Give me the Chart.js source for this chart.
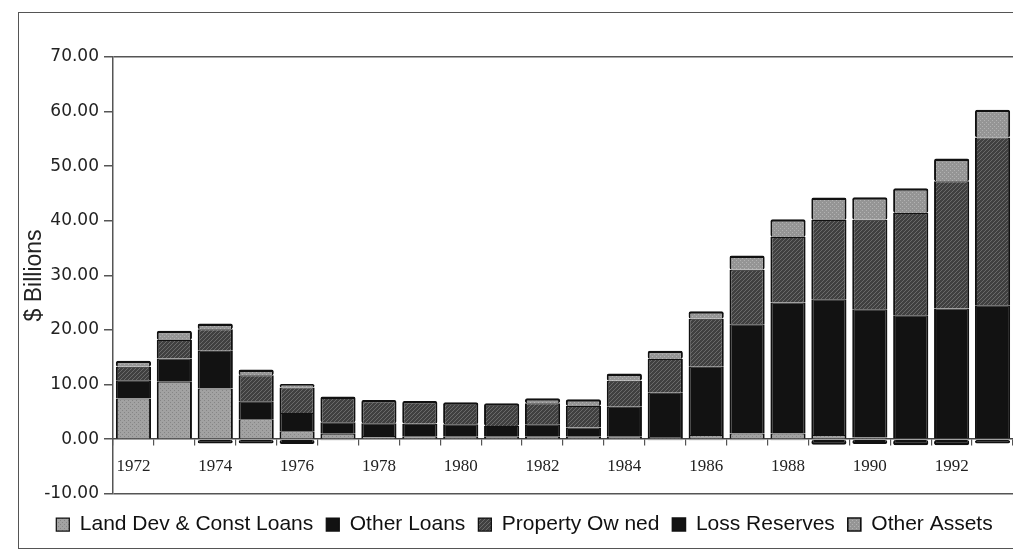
<!DOCTYPE html>
<html>
<head>
<meta charset="utf-8">
<script src="https://cdn.jsdelivr.net/npm/chart.js@4/dist/chart.umd.min.js"></script>
<style>
  html, body { margin: 0; padding: 0; background: #fff; overflow: hidden; }
  #wrap { position: relative; width: 1013px; height: 560px; }
  #frame { position: absolute; left: 18px; top: 12px; width: 1100px; height: 537px; border: 1.5px solid #555; box-sizing: border-box; }
  #wrap canvas { position: absolute; left: 0; top: 0; }
</style>
</head>
<body>
<div id="wrap">
  <div id="frame"></div>
  <canvas id="c" width="1013" height="560"></canvas>
</div>
<script>
const years = ['1972','1973','1974','1975','1976','1977','1978','1979','1980','1981','1982',
               '1983','1984','1985','1986','1987','1988','1989','1990','1991','1992','1993'];
const landDev       = [7.45, 10.5, 9.3, 3.65, 1.45, 1.0, 0.6, 0.55, 0.45, 0.45, 0.45, 0.45, 0.45, 0.4, 0.75, 1.05, 1.05, 0.75, 0.3, 0, 0, 0];
const otherLoans    = [3.35, 4.3, 6.9, 3.3, 3.35, 2.1, 2.3, 2.3, 2.3, 1.95, 2.3, 1.7, 5.5, 8.1, 12.5, 20.0, 24.0, 24.9, 23.5, 22.7, 23.95, 24.55];
const propertyOwned = [2.45, 3.35, 3.95, 4.75, 4.65, 4.7, 4.3, 4.15, 4.0, 4.2, 3.85, 3.95, 4.75, 6.2, 8.8, 10.0, 12.0, 14.5, 16.4, 18.75, 23.3, 30.7];
const lossReserves  = [0, 0, -0.8, -0.8, -0.9, -0.2, -0.15, -0.15, -0.15, -0.15, -0.15, -0.15, -0.15, -0.2, -0.2, -0.2, -0.2, -1.0, -0.9, -1.1, -1.1, -0.8];
const otherAssets   = [1.1, 1.7, 1.05, 1.05, 0.65, 0, 0, 0, 0, 0, 0.9, 1.2, 1.35, 1.5, 1.4, 2.6, 3.25, 4.1, 4.1, 4.5, 4.15, 5.1];
const seriesNames = ['Land Dev & Const Loans', 'Other Loans', 'Property Ow ned', 'Loss Reserves', 'Other Assets'];
const yTicks = [-10, 0, 10, 20, 30, 40, 50, 60, 70];

function makePattern(bg, fg, type) {
  const t = document.createElement('canvas');
  t.width = 4; t.height = 4;
  const g = t.getContext('2d');
  g.fillStyle = bg; g.fillRect(0, 0, 4, 4);
  g.fillStyle = fg;
  if (type === 'dots') {
    g.fillRect(0, 0, 1, 1); g.fillRect(2, 2, 1, 1);
  } else if (type === 'diag') {
    for (let i = 0; i < 4; i++) g.fillRect(i, 3 - i, 1, 1);
  }
  return g.createPattern(t, 'repeat');
}
const fillLand = makePattern('#a2a2a2', '#858585', 'dots');
const fillProp = makePattern('#404040', '#6a6a6a', 'diag');
const fillOther = makePattern('#959595', '#b2b2b2', 'dots');
const fillBlack = '#121212';

const BW = (top, bottom) => ({ top: top, bottom: bottom, left: 2, right: 2 });

const ds = (label, data, bg, bw) => ({
  label, data, backgroundColor: bg, borderColor: '#111', borderWidth: bw,
  borderSkipped: false, borderRadius: 2, stack: 's',
  barPercentage: 0.86, categoryPercentage: 1.0
});

new Chart(document.getElementById('c'), {
  type: 'bar',
  data: {
    labels: years,
    datasets: [
      ds(seriesNames[0], landDev, fillLand, BW(1, 0)),
      ds(seriesNames[1], otherLoans, fillBlack, BW(1, 0)),
      ds(seriesNames[2], propertyOwned, fillProp, (c) => {
        const i = c.dataIndex;
        return BW((i !== undefined && otherAssets[i] === 0) ? 2.5 : 1, 0);
      }),
      ds(seriesNames[3], lossReserves, fillBlack, BW(0, 2.5)),
      ds(seriesNames[4], otherAssets, fillOther, BW(2.5, 0))
    ]
  },
  options: {
    responsive: false,
    animation: false,
    layout: { padding: { left: 36, right: 0, top: 57, bottom: 15 } },
    plugins: {
      tooltip: { enabled: false },
      legend: {
        position: 'bottom',
        title: { display: true, text: '', padding: 0, font: { size: 6 } },
        labels: {
          font: { family: 'Liberation Sans, Arial, sans-serif', size: 21 },
          color: '#111',
          boxWidth: 13, boxHeight: 13, padding: 13
        }
      }
    },
    scales: {
      x: {
        type: 'category',
        position: { y: 0 },
        stacked: true,
        offset: true,
        grid: { display: true, drawOnChartArea: false, drawTicks: true, tickLength: 6, offset: true, color: '#555', lineWidth: 1.2 },
        border: { display: true, color: '#444', width: 1.5 },
        ticks: {
          autoSkip: false, maxRotation: 0, minRotation: 0, padding: 11,
          color: '#222',
          font: { family: 'Liberation Serif, Times New Roman, serif', size: 17 },
          callback: (v, i) => (i % 2 === 0 ? years[i] : '')
        }
      },
      y: {
        stacked: true,
        min: -10, max: 70,
        afterFit: (s) => { s.width = 77; },
        afterBuildTicks: (s) => { s.ticks = yTicks.map(v => ({ value: v })); },
        grid: {
          drawOnChartArea: true, drawTicks: true, tickLength: 9,
          color: (c) => (c.tick && (c.tick.value === 70 || c.tick.value === -10)) ? '#555' : 'rgba(0,0,0,0)',
          tickColor: '#555', lineWidth: 1.5
        },
        border: { display: true, color: '#555', width: 1.5 },
        ticks: {
          padding: 5, color: '#222',
          font: { family: 'DejaVu Sans, sans-serif', size: 17 },
          callback: (v) => Number(v).toFixed(2)
        },
        title: {
          display: true, text: '$ Billions', color: '#222',
          font: { family: 'Liberation Sans, Arial, sans-serif', size: 23 },
          padding: { top: -15, bottom: 0 }
        }
      }
    }
  }
});
</script>
</body>
</html>
